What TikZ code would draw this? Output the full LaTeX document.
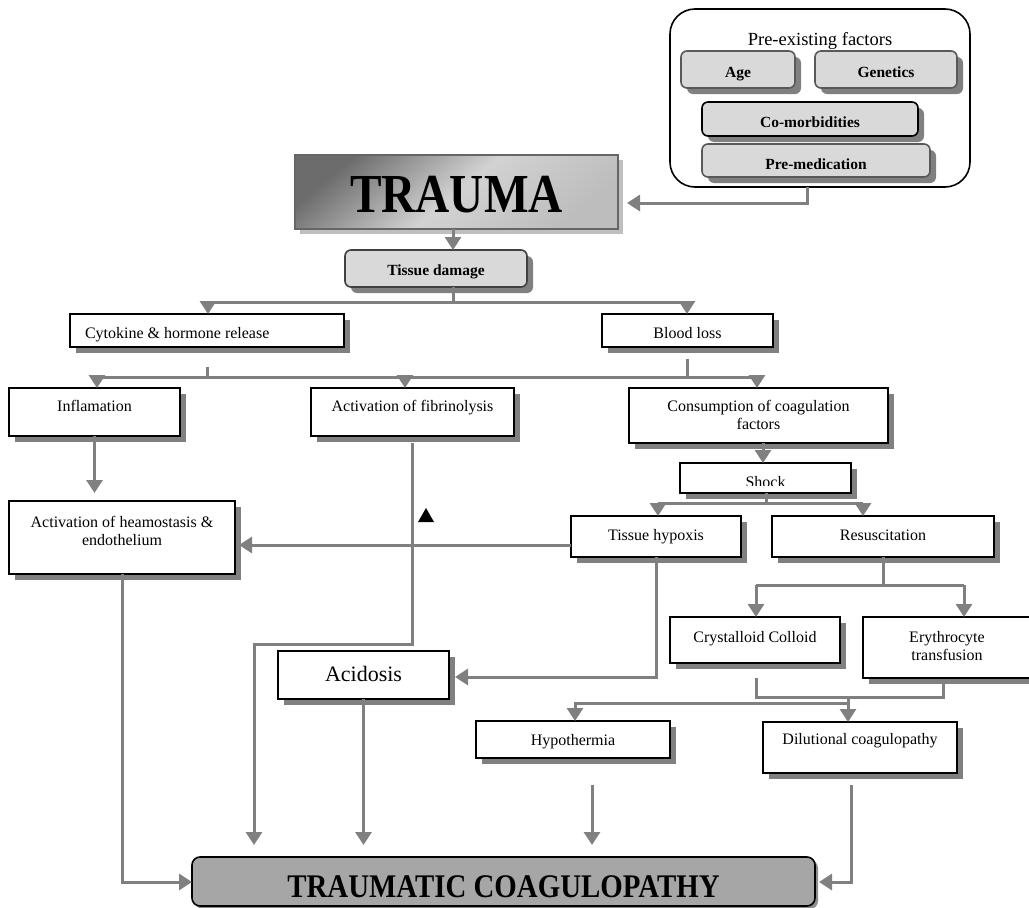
\documentclass[tikz,border=0pt]{standalone}
\usepackage{fontspec}
\setmainfont{Liberation Serif}
\usepackage{graphicx}
\usetikzlibrary{arrows.meta,shadows,calc}
\definecolor{lg}{HTML}{808080}
\definecolor{boxgray}{HTML}{D9D9D9}
\definecolor{tcgray}{HTML}{A6A6A6}
\definecolor{shdgray}{HTML}{808080}
\definecolor{tgA}{HTML}{6C6C6C}
\definecolor{tgB}{HTML}{D2D2D2}
\definecolor{tgC}{HTML}{BDBDBD}
\newcommand\fsA{\fontsize{16}{18}\selectfont}
\newcommand\fsB{\fontsize{15.5}{18}\selectfont\bfseries}
\newcommand\twol[2]{\begin{tabular}[t]{@{}c@{}}#1\\#2\end{tabular}}
\begin{document}
\begin{tikzpicture}[x=1pt,y=-1pt,
  shadowed/.style={drop shadow={shadow xshift=6pt,shadow yshift=-6pt,fill=shdgray,opacity=1}},
  base/.style={anchor=north west,inner xsep=0pt,inner ysep=0pt,outer sep=0pt},
  wbox/.style={base,draw=black,line width=1.6pt,fill=white,font=\fsA,shadowed},
  gbox/.style={base,draw=black!65,line width=1.6pt,fill=boxgray,rounded corners=6pt,font=\fsB,shadowed},
  conn/.style={draw=lg,line width=3pt},
  arr/.style={conn,-{Triangle[length=13pt,width=16pt]}},
]
\useasboundingbox (0,0) rectangle (1029,908);

% pre-existing factors
\node[base,draw=black,line width=1.6pt,rounded corners=25pt,minimum width=300pt,
  font=\fontsize{18.5}{20}\selectfont,text height=36pt,text depth=142pt] (pre) at (670,9) {Pre-existing factors};
\node[gbox,minimum width=114pt,text height=26pt,text depth=11pt] (age) at (681,51) {Age};
\node[gbox,minimum width=142pt,text height=26pt,text depth=11pt] (gen) at (815,51) {Genetics};
\node[gbox,draw=black,minimum width=216pt,text height=25pt,text depth=9pt] (como) at (702,102) {Co-morbidities};
\node[gbox,minimum width=228pt,text height=25pt,text depth=8pt] (prem) at (702,144) {Pre-medication};

% trauma
\node[base,draw=black!60,line width=1.5pt,top color=tgA,bottom color=tgC,middle color=tgB,shading angle=40,
  minimum width=323pt,text height=57pt,text depth=17pt,
  drop shadow={shadow xshift=5pt,shadow yshift=-5pt,fill=black!25,opacity=1}] (trauma) at (295,155)
  {\fontsize{55}{60}\selectfont\bfseries\scalebox{0.86}[1]{TRAUMA}};
\node[gbox,draw=black!75,minimum width=182pt,text height=25pt,text depth=12pt] (tissue) at (345,250) {Tissue damage};

% white boxes
\node[wbox,inner xsep=15pt,minimum width=274pt,text height=24pt,text depth=9pt] (cyto) at (70,314)
  {\makebox[244pt][l]{Cytokine \& hormone release}};
\node[wbox,minimum width=171pt,text height=24pt,text depth=9pt] (blood) at (602,314) {Blood loss};
\node[wbox,minimum width=171pt,text height=23pt,text depth=25pt] (infl) at (9,388) {Inflamation};
\node[wbox,minimum width=203pt,text height=23pt,text depth=25pt] (fibr) at (311,388) {Activation of fibrinolysis};
\node[wbox,minimum width=259pt,text height=23pt,text depth=32pt] (cons) at (629,388) {\twol{Consumption of coagulation}{factors}};
\node[wbox,minimum width=171pt,text height=24pt,text depth=6pt] (shock) at (680,463) {Shock};
\node[wbox,minimum width=170pt,text height=24pt,text depth=17pt] (hypox) at (571,516) {Tissue hypoxis};
\node[wbox,minimum width=222pt,text height=24pt,text depth=17pt] (resus) at (772,516) {Resuscitation};
\node[wbox,minimum width=226pt,text height=26pt,text depth=47pt] (haem) at (9,501) {\twol{Activation of heamostasis \&}{endothelium}};
\node[wbox,minimum width=171pt,text height=30pt,text depth=18pt,font=\fontsize{22}{24}\selectfont] (acid) at (278,651) {Acidosis};
\node[wbox,minimum width=170pt,text height=25pt,text depth=21pt] (cryst) at (670,617) {Crystalloid Colloid};
\node[wbox,minimum width=168pt,text height=25pt,text depth=36pt] (eryth) at (863,617) {\twol{Erythrocyte}{transfusion}};
\node[wbox,minimum width=194pt,text height=24pt,text depth=13pt] (hypot) at (476,721) {Hypothermia};
\node[wbox,minimum width=194pt,text height=22pt,text depth=29pt] (dilut) at (763,722) {Dilutional coagulopathy};

% traumatic coagulopathy
\node[base,draw=black,line width=1.6pt,fill=tcgray,rounded corners=8pt,minimum width=623pt,
  text height=40pt,text depth=9pt,
  drop shadow={shadow xshift=3pt,shadow yshift=-3pt,fill=black!45,opacity=1}] (tc) at (192,857)
  {\fontsize{33}{36}\selectfont\bfseries\scalebox{0.875}[1]{TRAUMATIC COAGULOPATHY}};

% clipped bottom of "Shock"
\fill[white] ($(shock.south west)+(1,-7.5)$) rectangle ($(shock.south east)+(-1,-0.9)$);

% connectors
\coordinate (c1) at (807,203);
\draw[arr] (pre.south -| c1) -- (c1) -- ([xshift=9pt]trauma.east |- c1);

\coordinate (b1) at (453,302);
\coordinate (b1l) at (208,302);
\coordinate (b1r) at (687,302);
\draw[arr] (trauma.south -| b1) -- (tissue.north -| b1);
\draw[conn] (tissue.south -| b1) -- (b1);
\draw[conn] (b1l) -- (b1r);
\draw[arr] (b1l) -- (cyto.north -| b1l);
\draw[arr] (b1r) -- (blood.north -| b1r);

\coordinate (s1) at (207,377);
\coordinate (s2) at (687,377);
\coordinate (b2l) at (97,377);
\coordinate (b2m) at (405,377);
\coordinate (b2r) at (757,377);
\draw[conn] ($(cyto.south -| s1)+(0,20)$) -- (s1);
\draw[conn] ($(blood.south -| s2)+(0,12)$) -- (s2);
\draw[conn] (b2l) -- (b2r);
\draw[arr] (b2l) -- (infl.north -| b2l);
\draw[arr] (b2m) -- (fibr.north -| b2m);
\draw[arr] (b2r) -- (cons.north -| b2r);

\draw[arr] (infl.south) -- ($(haem.north -| infl.south)+(0,-8)$);

\coordinate (f1) at (254,644);
\draw[arr,shorten >=12pt] ($(fibr.south)+(0,7)$) |- (f1) -- (tc.north -| f1);

\coordinate (h1) at (571,545);
\draw[arr] (h1) -- ([xshift=4pt]haem.east |- h1);
\coordinate (h2) at (656,677);
\draw[arr] (hypox.south -| h2) -- (h2) -- ([xshift=6pt]acid.east |- h2);

\coordinate (h3) at (122,882);
\draw[arr] (haem.south -| h3) -- (h3) -- (tc.west |- h3);
\draw[arr,shorten >=12pt] (acid.south) -- (tc.north -| acid.south);
\coordinate (h4) at (592,785);
\draw[arr,shorten >=12pt] (h4) -- (tc.north -| h4);
\coordinate (d2) at (851,882);
\draw[arr,shorten >=4pt] ($(dilut.south -| d2)+(0,12)$) -- (d2) -- (tc.east |- d2);

\coordinate (cs) at (763,450);
\draw[arr] (cons.south -| cs) -- (shock.north -| cs);
\coordinate (sb) at (766,503);
\coordinate (sbl) at (658,503);
\coordinate (sbr) at (863,503);
\draw[conn] (shock.south -| sb) -- (sb);
\draw[conn] (sbl) -- (sbr);
\draw[arr] (sbl) -- (hypox.north -| sbl);
\draw[arr] (sbr) -- (resus.north -| sbr);

\coordinate (rb) at (883,585);
\coordinate (rbl) at (756,585);
\coordinate (rbr) at (964,585);
\draw[conn] (resus.south -| rb) -- (rb);
\draw[conn] (rbl) -- (rbr);
\draw[arr] (rbl) -- (cryst.north -| rbl);
\draw[arr] (rbr) -- (eryth.north -| rbr);

\coordinate (q2) at (756,697);
\coordinate (q3) at (943,697);
\draw[conn] ($(cryst.south -| q2)+(0,15)$) -- (q2) -- (q3) -- ($(eryth.south -| q3)+(0,6)$);
\coordinate (q5) at (848,697);
\draw[arr] (q5) -- (dilut.north -| q5);
\coordinate (q6) at (848,703);
\coordinate (q7) at (575,703);
\draw[arr] (q6) -- (q7) -- (hypot.north -| q7);

% stray black marker
\fill (418,522) -- (434,522) -- (426,508) -- cycle;
\end{tikzpicture}
\end{document}
